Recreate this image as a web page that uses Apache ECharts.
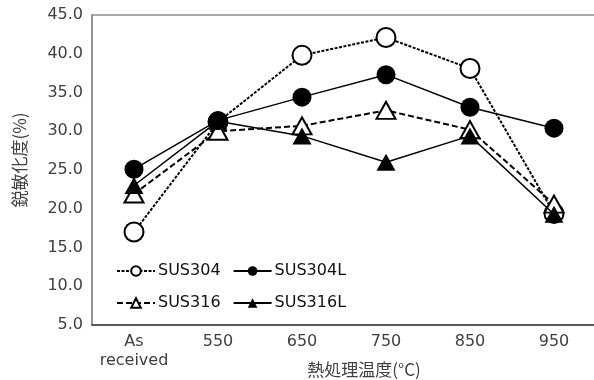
<!DOCTYPE html>
<html>
<head>
<meta charset="utf-8">
<script src="https://cdn.jsdelivr.net/npm/echarts@6/dist/echarts.min.js"></script>
<style>
  html, body { margin: 0; padding: 0; background: #fff; }
  #chart { width: 594px; height: 380px; }
</style>
</head>
<body>
<div id="chart"></div>
<script>
// 熱処理温度
var categories = ["As\nreceived", "550", "650", "750", "850", "950"];
// 鋭敏化度(%)
var sus304 = [17.0, 31.2, 39.8, 42.1, 38.1, 19.4];
var sus304L = [25.1, 31.4, 34.4, 37.3, 33.1, 30.4];
var sus316 = [21.9, 30.0, 30.7, 32.7, 30.2, 20.6];
var sus316L = [23.0, 31.3, 29.4, 26.0, 29.4, 19.3];
var yTicks = [5, 45, 5]; // min, max, interval

var numFont = "DejaVu Sans";
var jpFont = "Noto Sans CJK JP";

var myChart = echarts.init(document.getElementById("chart"));

function lineSeries(name, data, symbol, size, dash, z) {
  var empty = symbol.indexOf("empty") === 0;
  return {
    name: name,
    type: "line",
    data: data,
    z: z,
    symbol: symbol,
    symbolSize: size,
    showAllSymbol: true,
    animation: false,
    lineStyle: { color: "#000", width: dash === "solid" ? 1.5 : 2, type: dash },
    itemStyle: {
      color: "#000",
      borderColor: "#000",
      borderWidth: empty ? 1.5 : 0
    }
  };
}

myChart.setOption({
  animation: false,
  grid: {
    left: 92,
    top: 15,
    right: -2,
    bottom: 55,
    containLabel: false,
    outerBoundsMode: "none",
    show: true,
    borderColor: "#8c8c8c",
    borderWidth: 1.5
  },
  legend: [
    {
      data: ["SUS304", "SUS304L"],
      left: 111,
      top: 258,
      itemWidth: 38,
      itemHeight: 12,
      itemGap: 12,
      textStyle: { fontFamily: numFont, fontSize: 16, color: "#111", padding: [0, 0, 0, -2] }
    },
    {
      data: ["SUS316", "SUS316L"],
      left: 111,
      top: 290,
      itemWidth: 38,
      itemHeight: 12,
      itemGap: 12,
      textStyle: { fontFamily: numFont, fontSize: 16, color: "#111", padding: [0, 0, 0, -2] }
    }
  ],
  xAxis: {
    type: "category",
    data: categories,
    boundaryGap: true,
    name: "熱処理温度(°C)",
    nameLocation: "middle",
    nameGap: 36,
    nameMoveOverlap: false,
    nameTextStyle: { fontFamily: jpFont, fontSize: 17, color: "#404040", padding: [0, 0, 0, 40] },
    axisLine: { lineStyle: { color: "#404040", width: 1.5 } },
    axisTick: { inside: true, alignWithLabel: true, length: 5, lineStyle: { color: "#404040" } },
    axisLabel: { interval: 0, fontFamily: numFont, fontSize: 16, color: "#404040", margin: 7, lineHeight: 19 }
  },
  yAxis: {
    type: "value",
    min: yTicks[0],
    max: yTicks[1],
    interval: yTicks[2],
    name: "鋭敏化度(%)",
    nameLocation: "middle",
    nameGap: 64,
    nameRotate: 90,
    nameMoveOverlap: false,
    nameTextStyle: { fontFamily: jpFont, fontSize: 17, color: "#404040", padding: [0, 0, 0, 20] },
    axisLine: { show: true, lineStyle: { color: "#8c8c8c", width: 1.5 } },
    axisTick: { show: false },
    splitLine: { show: false },
    axisLabel: {
      fontFamily: numFont,
      fontSize: 16,
      color: "#404040",
      margin: 9,
      formatter: function (v) { return v.toFixed(1); }
    }
  },
  series: [
    lineSeries("SUS304", sus304, "emptyCircle", 19, [3, 1.5], 2),
    lineSeries("SUS304L", sus304L, "circle", 19, "solid", 5),
    lineSeries("SUS316", sus316, "emptyTriangle", [19, 17], [6, 3], 3),
    lineSeries("SUS316L", sus316L, "triangle", [19, 17], "solid", 4)
  ]
});
</script>
</body>
</html>
